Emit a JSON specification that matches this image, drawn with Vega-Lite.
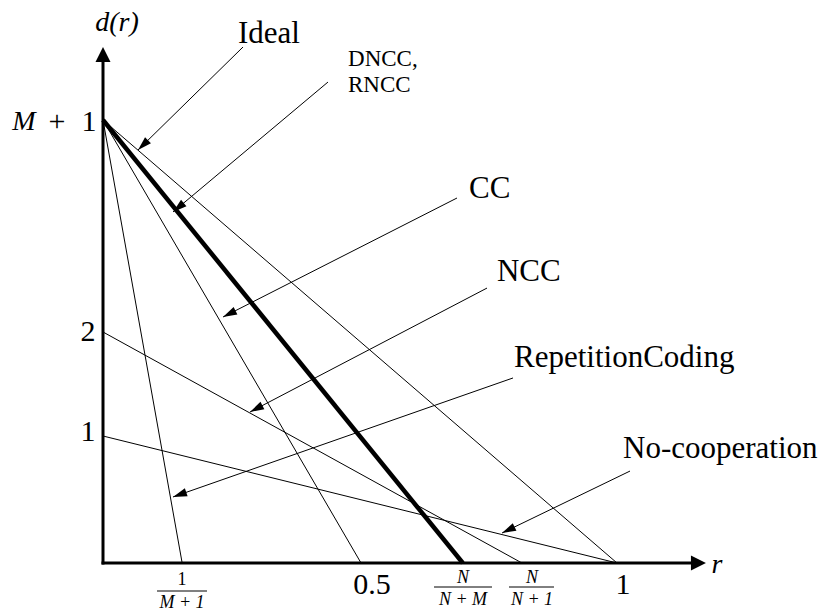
{
  "$schema": "https://vega.github.io/schema/vega-lite/v6.json",
  "width": 828,
  "height": 616,
  "autosize": {"type": "fit", "contains": "padding"},
  "padding": 0,
  "background": "white",
  "config": {"view": {"stroke": null}},
  "datasets": {
    "curves": [
      {"curve": "Ideal", "r": 0, "d": 3.488, "r2": 1, "d2": 0},
      {"curve": "DNCC", "r": 0, "d": 3.488, "r2": 0.7, "d2": 0},
      {"curve": "CC", "r": 0, "d": 3.488, "r2": 0.502, "d2": 0},
      {"curve": "RepetitionCoding", "r": 0, "d": 3.488, "r2": 0.154, "d2": 0},
      {"curve": "NCC", "r": 0, "d": 1.819, "r2": 0.815, "d2": 0},
      {"curve": "No-cooperation", "r": 0, "d": 1, "r2": 1, "d2": 0}
    ],
    "leaders": [
      {"label": "Ideal", "r": 0.0681, "d": 3.252, "r2": 0.2724, "d2": 4.063},
      {"label": "DNCC", "r": 0.1362, "d": 2.764, "r2": 0.4377, "d2": 3.787},
      {"label": "CC", "r": 0.2335, "d": 1.937, "r2": 0.6887, "d2": 2.874},
      {"label": "NCC", "r": 0.286, "d": 1.189, "r2": 0.7471, "d2": 2.165},
      {"label": "RepetitionCoding", "r": 0.1362, "d": 0.52, "r2": 0.7977, "d2": 1.457},
      {"label": "No-cooperation", "r": 0.7763, "d": 0.236, "r2": 1.0253, "d2": 0.724}
    ],
    "axes": [
      {"axis": "y", "r": 0, "d": 0, "r2": 0, "d2": 3.945},
      {"axis": "x", "r": 0, "d": 0, "r2": 1.146, "d2": 0}
    ],
    "tips": [
      {"axis": "y", "r": 0, "d": 4.063},
      {"axis": "x", "r": 1.173, "d": 0}
    ],
    "bars": [
      {"tick": "1/(M+1)", "r": 0.1051, "r2": 0.2023, "d": -0.2205},
      {"tick": "N/(N+M)", "r": 0.644, "r2": 0.7568, "d": -0.189},
      {"tick": "N/(N+1)", "r": 0.7899, "r2": 0.8774, "d": -0.189}
    ],
    "labels": [
      {"t": "Ideal", "r": 0.2626, "d": 4.165},
      {"t": "CC", "r": 0.7121, "d": 2.945},
      {"t": "NCC", "r": 0.7665, "d": 2.291},
      {"t": "RepetitionCoding", "r": 0.7996, "d": 1.614},
      {"t": "No-cooperation", "r": 1.0117, "d": 0.898}
    ],
    "smallLabels": [
      {"t": "DNCC,", "r": 0.4767, "d": 3.969},
      {"t": "RNCC", "r": 0.4767, "d": 3.764}
    ],
    "numbers": [
      {"t": "2", "r": -0.0292, "d": 1.819},
      {"t": "1", "r": -0.0292, "d": 1.031},
      {"t": "0.5", "r": 0.5233, "d": -0.173},
      {"t": "1", "r": 1.0117, "d": -0.173},
      {"t": "+", "r": -0.0895, "d": 3.472},
      {"t": "1", "r": -0.0272, "d": 3.472}
    ],
    "italics": [
      {"t": "M", "r": -0.1537, "d": 3.472},
      {"t": "d(r)", "r": 0.0272, "d": 4.252},
      {"t": "r", "r": 1.1946, "d": -0.016}
    ],
    "fracItalic": [
      {"t": "M + 1", "r": 0.1537, "d": -0.315},
      {"t": "N", "r": 0.7004, "d": -0.118},
      {"t": "N + M", "r": 0.7004, "d": -0.291},
      {"t": "N", "r": 0.8346, "d": -0.118},
      {"t": "N + 1", "r": 0.8346, "d": -0.291}
    ],
    "fracUpright": [
      {"t": "1", "r": 0.1537, "d": -0.134}
    ]
  },
  "encoding": {
    "x": {"field": "r", "type": "quantitative", "scale": {"domain": [-0.2004, 1.4105], "nice": false, "zero": false}, "axis": null},
    "y": {"field": "d", "type": "quantitative", "scale": {"domain": [-0.4173, 4.4331], "nice": false, "zero": false}, "axis": null}
  },
  "layer": [
    {
      "data": {"name": "curves"},
      "transform": [{"filter": "datum.curve !== 'DNCC'"}],
      "mark": {"type": "rule", "strokeWidth": 1, "color": "black"},
      "encoding": {"x2": {"field": "r2"}, "y2": {"field": "d2"}}
    },
    {
      "data": {"name": "curves"},
      "transform": [{"filter": "datum.curve === 'DNCC'"}],
      "mark": {"type": "rule", "strokeWidth": 4.5, "color": "black"},
      "encoding": {"x2": {"field": "r2"}, "y2": {"field": "d2"}}
    },
    {
      "data": {"name": "axes"},
      "mark": {"type": "rule", "strokeWidth": 3, "color": "black", "strokeCap": "square"},
      "encoding": {"x2": {"field": "r2"}, "y2": {"field": "d2"}}
    },
    {
      "data": {"name": "tips"},
      "transform": [{"filter": "datum.axis === 'y'"}],
      "mark": {"type": "point", "shape": "M0,0L-0.5,1L0.5,1Z", "filled": true, "color": "black", "opacity": 1, "size": 900, "strokeWidth": 0, "angle": 0}
    },
    {
      "data": {"name": "tips"},
      "transform": [{"filter": "datum.axis === 'x'"}],
      "mark": {"type": "point", "shape": "M0,0L-0.5,1L0.5,1Z", "filled": true, "color": "black", "opacity": 1, "size": 900, "strokeWidth": 0, "angle": 90}
    },
    {
      "data": {"name": "leaders"},
      "mark": {"type": "rule", "strokeWidth": 1, "color": "black"},
      "encoding": {"x2": {"field": "r2"}, "y2": {"field": "d2"}}
    },
    {
      "data": {"name": "leaders"},
      "transform": [{"calculate": "atan2((datum.r - datum.r2) * 514, (datum.d - datum.d2) * 127) * 180 / PI", "as": "angle"}],
      "mark": {"type": "point", "shape": "M0,0L-0.3,1L0.3,1Z", "filled": true, "color": "black", "opacity": 1, "size": 784, "strokeWidth": 0},
      "encoding": {"angle": {"field": "angle", "type": "quantitative", "scale": null}}
    },
    {
      "data": {"name": "bars"},
      "mark": {"type": "rule", "strokeWidth": 1, "color": "black"},
      "encoding": {"x2": {"field": "r2"}}
    },
    {
      "data": {"name": "labels"},
      "mark": {"type": "text", "font": "Liberation Serif", "fontSize": 31, "align": "left", "baseline": "middle", "color": "black"},
      "encoding": {"text": {"field": "t"}}
    },
    {
      "data": {"name": "smallLabels"},
      "mark": {"type": "text", "font": "Liberation Serif", "fontSize": 23, "align": "left", "baseline": "middle", "color": "black"},
      "encoding": {"text": {"field": "t"}}
    },
    {
      "data": {"name": "numbers"},
      "mark": {"type": "text", "font": "Liberation Serif", "fontSize": 30, "align": "center", "baseline": "middle", "color": "black"},
      "encoding": {"text": {"field": "t"}}
    },
    {
      "data": {"name": "italics"},
      "mark": {"type": "text", "font": "Liberation Serif", "fontStyle": "italic", "fontSize": 28, "align": "center", "baseline": "middle", "color": "black"},
      "encoding": {"text": {"field": "t"}}
    },
    {
      "data": {"name": "fracItalic"},
      "mark": {"type": "text", "font": "Liberation Serif", "fontStyle": "italic", "fontSize": 18, "align": "center", "baseline": "middle", "color": "black"},
      "encoding": {"text": {"field": "t"}}
    },
    {
      "data": {"name": "fracUpright"},
      "mark": {"type": "text", "font": "Liberation Serif", "fontSize": 18, "align": "center", "baseline": "middle", "color": "black"},
      "encoding": {"text": {"field": "t"}}
    }
  ]
}
